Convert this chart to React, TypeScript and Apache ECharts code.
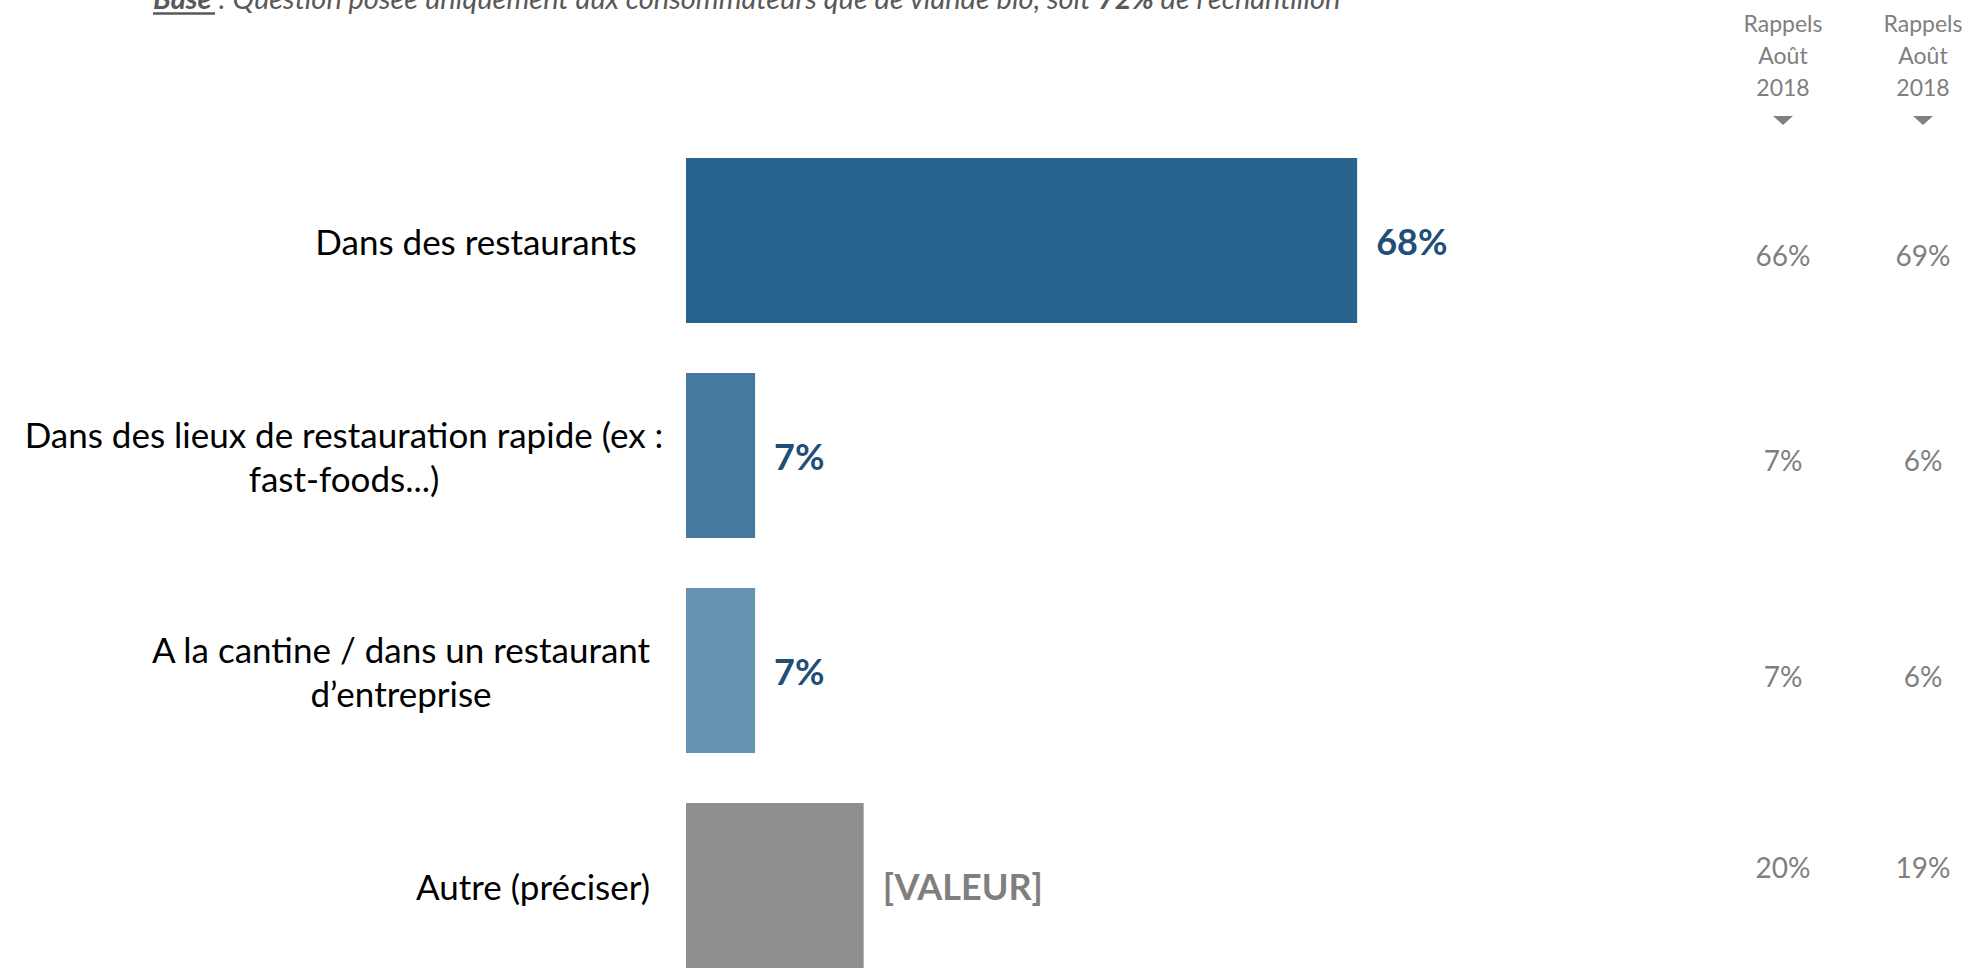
import React, { useEffect, useRef } from "react";
import * as echarts from "echarts";

const categories = [
  "Dans des restaurants",
  "Dans des lieux de restauration rapide (ex :\nfast-foods...)",
  "A la cantine / dans un restaurant\nd’entreprise",
  "Autre (préciser)",
];
const values = [68, 7, 7, 18];
const valueLabels = ["68%", "7%", "7%", "[VALEUR]"];
const rappelsA = ["66%", "7%", "7%", "20%"];
const rappelsB = ["69%", "6%", "6%", "19%"];
const headerText = "Rappels\nAoût\n2018";
const noteParts = ["Base", " : Question posée uniquement aux consommateurs que de viande bio, soit ", "72%", " de l’échantillon"];

const barColors = ["#26648E", "#45799F", "#6692B1", "#8F8F8F"];
const labelColors = ["#1F4E79", "#1F4E79", "#1F4E79", "#7F7F7F"];
const labelPads = [[8, 0, 0, 0], [8, 264, 0, 0], [8, 150, 0, 0], [8, 0, 0, 114]];
const rowY = [255, 460, 676, 867];
const colX = [1783, 1923];
const FONT = "Lato, 'Open Sans', sans-serif";

export default function App() {
  const ref = useRef<HTMLDivElement>(null);
  useEffect(() => {
    if (!ref.current) return;
    const chart = echarts.init(ref.current, null, { renderer: "svg" });
    const graphics: any[] = [];
    graphics.push({
      type: "text",
      x: 153,
      y: -3,
      style: {
        text: `{b|${noteParts[0]}}{n|${noteParts[1]}}{b|${noteParts[2]}}{n|${noteParts[3]}}`,
        verticalAlign: "middle",
        fill: "#595959",
        rich: {
          b: { fontFamily: FONT, fontSize: 29, fontStyle: "italic", fontWeight: "bold", fill: "#595959" },
          n: { fontFamily: FONT, fontSize: 29, fontStyle: "italic", fill: "#595959" },
        },
      },
    });
    graphics.push({
      type: "line",
      shape: { x1: 153, y1: 13.5, x2: 215, y2: 13.5 },
      style: { stroke: "#595959", lineWidth: 2.5 },
    });
    colX.forEach((cx, ci) => {
      graphics.push({
        type: "text",
        x: cx,
        y: 55,
        style: {
          text: headerText,
          fontFamily: FONT,
          fontSize: 23,
          lineHeight: 32,
          fill: "#7F7F7F",
          align: "center",
          verticalAlign: "middle",
        },
      });
      graphics.push({
        type: "polygon",
        shape: { points: [[cx - 10, 116], [cx + 10, 116], [cx, 125]] },
        style: { fill: "#808080" },
      });
      const arr = ci === 0 ? rappelsA : rappelsB;
      arr.forEach((t, i) => {
        graphics.push({
          type: "text",
          x: cx,
          y: rowY[i],
          style: {
            text: t,
            fontFamily: FONT,
            fontSize: 28,
            fill: "#7F7F7F",
            align: "center",
            verticalAlign: "middle",
          },
        });
      });
    });

    chart.setOption({
      animation: false,
      grid: { left: 686, top: 133, width: 987, height: 860, containLabel: false, outerBoundsMode: "none" },
      xAxis: { type: "value", min: 0, max: 100, show: false },
      yAxis: {
        type: "category",
        inverse: true,
        data: categories.map((c, i) => ({ value: c, textStyle: { align: "center", padding: labelPads[i] } })),
        axisLine: { show: false },
        axisTick: { show: false },
        axisLabel: {
          interval: 0,
          margin: 210,
          align: "center",
          fontFamily: FONT,
          fontSize: 35,
          lineHeight: 44,
          color: "#000000",
        },
      },
      series: [
        {
          type: "bar",
          barWidth: 165,
          data: values.map((v, i) => ({
            value: v,
            itemStyle: { color: barColors[i] },
            label: {
              show: true,
              position: "right",
              distance: 19,
              formatter: valueLabels[i],
              color: labelColors[i],
              fontFamily: FONT,
              fontSize: 36,
              fontWeight: "bold",
            },
          })),
        },
      ],
      graphic: graphics,
    });
    return () => chart.dispose();
  }, []);
  return (
    <div
      ref={ref}
      style={{ position: "absolute", left: 0, top: 0, width: 1970, height: 968, background: "#fff" }}
    />
  );
}
